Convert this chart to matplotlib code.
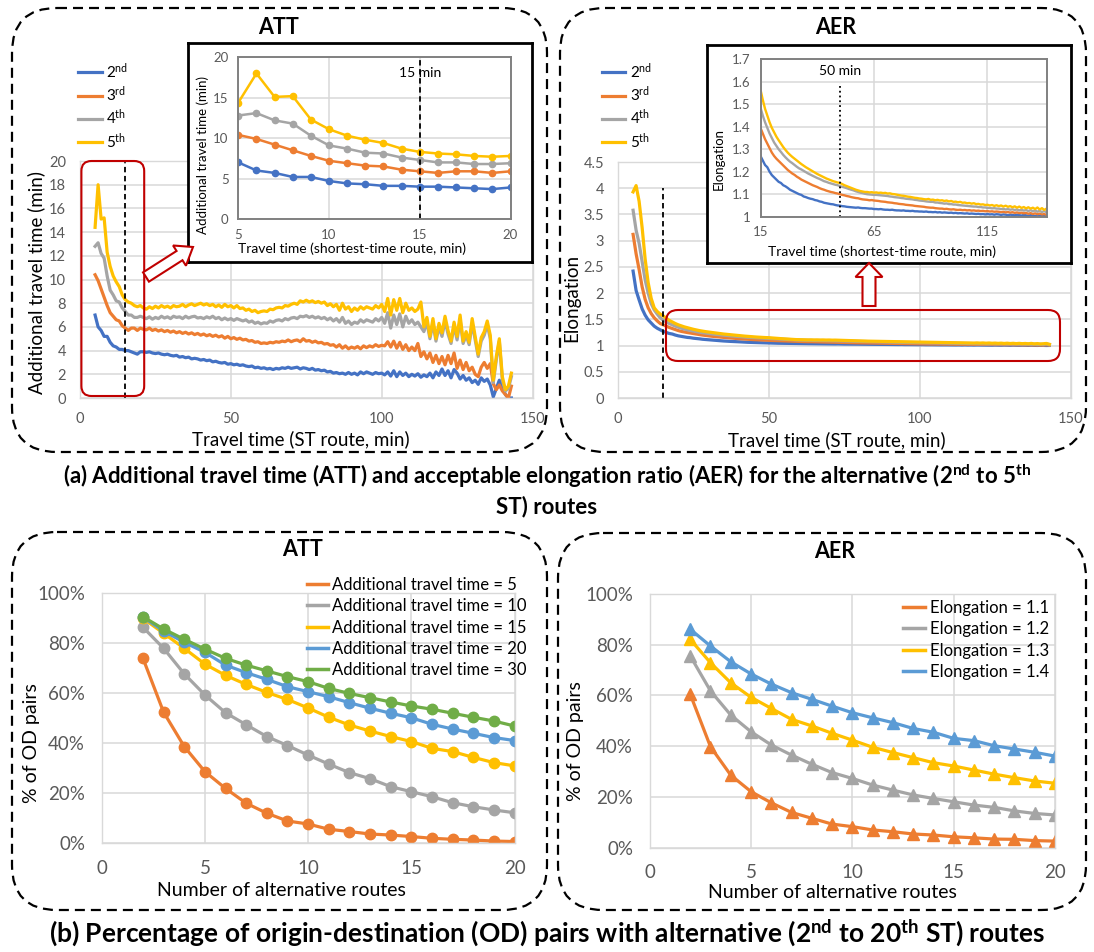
import matplotlib
matplotlib.use("Agg")
import matplotlib.pyplot as plt
from matplotlib.patches import FancyBboxPatch, FancyArrow
from matplotlib.lines import Line2D
from matplotlib.ticker import FuncFormatter
import numpy as np

plt.rcParams['font.family'] = ['Lato', 'DejaVu Sans']
plt.rcParams['mathtext.fontset'] = 'custom'
plt.rcParams['mathtext.rm'] = 'Lato'
plt.rcParams['mathtext.bf'] = 'Lato:bold'
plt.rcParams['mathtext.it'] = 'Lato:italic'

W, H = 1094, 952

# ==============================
# Data
# ==============================
route_labels = ['2$^{\\mathrm{nd}}$', '3$^{\\mathrm{rd}}$', '4$^{\\mathrm{th}}$', '5$^{\\mathrm{th}}$']
route_colors = ['#4472C4', '#ED7D31', '#A5A5A5', '#FFC000']

# ATT, travel time 5..20 min (inset, also start of main curve)
att_x_inset = np.arange(5, 21)
att_2nd = [7.0, 6.0, 5.7, 5.2, 5.2, 4.7, 4.4, 4.3, 4.1, 4.1, 4.0, 4.0, 3.9, 3.8, 3.7, 3.9]
att_3rd = [10.4, 9.9, 9.2, 8.5, 7.8, 7.2, 6.9, 6.6, 6.5, 6.1, 5.9, 5.7, 5.9, 5.9, 5.7, 5.9]
att_4th = [12.8, 13.1, 12.2, 11.8, 10.3, 9.1, 8.7, 8.2, 8.1, 7.6, 7.3, 7.0, 7.0, 6.8, 6.8, 6.9]
att_5th = [14.4, 18.0, 15.1, 15.2, 12.3, 11.1, 10.3, 9.8, 9.4, 8.7, 8.3, 8.1, 8.0, 7.8, 7.7, 7.8]

# ATT, travel time 21..143 min
att_2nd_tail = [3.9, 3.85, 3.9, 3.8, 3.75, 3.8, 3.7, 3.65, 3.7, 3.6,
                3.55, 3.6, 3.45, 3.5, 3.4, 3.45, 3.3, 3.35, 3.3, 3.2,
                3.25, 3.15, 3.2, 3.05, 3.1, 3.0, 2.95, 3.0, 2.85, 2.9,
                2.8, 2.85, 2.75, 2.8, 2.7, 2.65, 2.7, 2.55, 2.6, 2.5,
                2.55, 2.45, 2.5, 2.4, 2.5, 2.45, 2.55, 2.5, 2.6, 2.5,
                2.55, 2.6, 2.45, 2.55, 2.5, 2.4, 2.5, 2.35, 2.4, 2.3,
                2.35, 2.2, 2.25, 2.1, 2.15, 2.05, 2.1, 2.0, 2.15, 2.0,
                2.1, 1.95, 2.2, 2.05, 2.2, 2.1, 2.0, 2.15, 2.05, 2.1,
                1.95, 2.2, 1.85, 2.3, 1.8, 2.2, 1.9, 2.1, 1.8, 2.0,
                1.85, 2.05, 1.75, 1.95, 1.8, 2.1, 1.7, 2.2, 1.9, 2.45,
                1.9, 2.3, 1.7, 2.4, 2.1, 1.6, 1.9, 1.5, 1.7, 1.3,
                1.5, 1.15, 1.7, 1.4, 1.6, 1.1, 0.1, 0.8, 1.5, 1.0,
                0.3, 0.0, 0.0]
att_3rd_tail = [5.8, 5.75, 5.9, 5.7, 5.8, 5.65, 5.75, 5.6, 5.7, 5.55,
                5.65, 5.5, 5.6, 5.45, 5.55, 5.4, 5.5, 5.35, 5.45, 5.3,
                5.4, 5.25, 5.35, 5.2, 5.3, 5.15, 5.25, 5.05, 5.2, 5.0,
                5.1, 4.95, 5.05, 4.9, 4.95, 4.8, 4.85, 4.7, 4.75, 4.6,
                4.65, 4.6, 4.7, 4.65, 4.75, 4.7, 4.8, 4.75, 4.9, 4.75,
                4.85, 4.9, 4.75, 5.0, 4.8, 4.85, 4.7, 4.8, 4.65, 4.7,
                4.55, 4.6, 4.45, 4.5, 4.3, 4.5, 4.2, 4.4, 4.15, 4.3,
                4.2, 4.35, 4.15, 4.4, 4.25, 4.4, 4.3, 4.5, 4.35, 4.45,
                4.4, 4.75, 4.3, 4.8, 4.2, 4.7, 4.1, 4.5, 4.0, 4.3,
                4.0, 4.6, 3.5, 3.9, 3.3, 3.8, 3.0, 3.6, 2.9, 3.5,
                2.8, 3.6, 2.9, 3.8, 2.5, 3.2, 2.4, 3.0, 2.3, 2.6,
                2.0, 1.8, 2.6, 3.0, 2.5, 2.9, 1.2, 0.7, 1.1, 0.6,
                0.3, 0.0, 1.0]
att_4th_tail = [6.8, 6.7, 6.85, 6.65, 6.8, 6.7, 6.9, 6.75, 6.85, 6.7,
                6.9, 6.8, 6.85, 6.7, 6.9, 6.75, 6.85, 6.9, 6.75, 6.8,
                6.7, 6.85, 6.75, 6.9, 6.7, 6.8, 6.6, 6.75, 6.6, 6.7,
                6.55, 6.7, 6.6, 6.5, 6.6, 6.4, 6.5, 6.3, 6.4, 6.25,
                6.35, 6.3, 6.5, 6.4, 6.55, 6.6, 6.5, 6.7, 6.6, 6.75,
                6.8, 6.7, 6.9, 6.85, 6.95, 6.8, 6.9, 6.75, 6.85, 6.7,
                6.8, 6.6, 6.75, 6.5, 6.7, 6.4, 6.8, 6.3, 6.5, 6.2,
                6.4, 6.3, 6.6, 6.4, 6.6, 6.5, 6.4, 6.7, 6.5, 6.8,
                6.3, 7.2, 5.9, 7.0, 6.2, 7.1, 6.0, 6.9, 6.3, 6.6,
                6.2, 6.4, 6.0, 5.6, 6.4, 5.0, 6.3, 4.8, 6.0, 5.2,
                6.5, 5.4, 4.6, 6.1, 4.9, 6.6, 4.6, 5.3, 4.5, 6.3,
                4.9, 3.5, 4.8, 5.3, 6.2, 5.0, 1.3, 3.2, 4.8, 1.5,
                0.6, 0.8, 1.8]
att_5th_tail = [7.6, 7.5, 7.7, 7.55, 7.75, 7.6, 7.8, 7.65, 7.75, 7.6,
                7.8, 7.7, 7.75, 7.9, 7.7, 7.85, 7.95, 7.8, 7.9, 8.0,
                7.85, 7.95, 7.8, 7.9, 7.7, 7.85, 7.65, 7.9, 7.7, 7.8,
                7.6, 7.8, 7.55, 7.6, 7.4, 7.5, 7.3, 7.4, 7.2, 7.3,
                7.35, 7.3, 7.5, 7.45, 7.6, 7.65, 7.6, 7.8, 7.75, 7.9,
                8.0, 7.9, 8.2, 8.1, 8.25, 8.1, 8.2, 8.05, 8.15, 8.0,
                8.1, 7.8, 7.95, 7.7, 7.9, 7.4, 8.0, 7.5, 7.7, 7.3,
                7.6, 7.4, 7.7, 7.5, 7.7, 7.6, 7.5, 7.8, 7.6, 7.9,
                7.3, 8.4, 7.0, 8.3, 7.4, 8.4, 7.2, 8.0, 7.4, 7.6,
                7.3, 7.5, 8.1, 6.0, 6.8, 5.2, 6.7, 5.0, 6.3, 5.5,
                6.9, 5.7, 4.8, 6.4, 5.2, 7.0, 4.8, 5.6, 4.7, 6.7,
                5.2, 3.7, 5.1, 5.6, 6.5, 5.3, 1.5, 3.5, 5.0, 1.8,
                0.7, 1.0, 2.1]

att_x_main = np.arange(5, 144)
att_main = [att_2nd + att_2nd_tail, att_3rd + att_3rd_tail,
            att_4th + att_4th_tail, att_5th + att_5th_tail]
att_inset = [att_2nd, att_3rd, att_4th, att_5th]

# AER (elongation), travel time 5..143 min
aer_x = np.arange(5, 144)
aer_2nd = [2.42, 2.05, 1.87, 1.70, 1.58, 1.49, 1.43, 1.37, 1.33, 1.30, 1.27,
           1.25, 1.23, 1.22, 1.20, 1.185, 1.175, 1.165, 1.155, 1.15, 1.14,
           1.135, 1.128, 1.12, 1.115, 1.11, 1.105, 1.10, 1.097, 1.09, 1.087,
           1.083, 1.08, 1.078, 1.074, 1.072, 1.068, 1.066, 1.062, 1.06, 1.058,
           1.056, 1.055, 1.052, 1.05, 1.049, 1.047, 1.046, 1.044, 1.043, 1.042,
           1.041, 1.040, 1.041, 1.039, 1.038, 1.038, 1.037, 1.036, 1.036, 1.034,
           1.034, 1.033, 1.034, 1.032, 1.031, 1.031, 1.03, 1.031, 1.029, 1.028,
           1.028, 1.027, 1.028, 1.026, 1.026, 1.025, 1.026, 1.024, 1.024, 1.023,
           1.023, 1.022, 1.023, 1.021, 1.021, 1.02, 1.021, 1.019, 1.02, 1.018,
           1.019, 1.018, 1.017, 1.018, 1.016, 1.017, 1.015, 1.016, 1.015, 1.014,
           1.015, 1.013, 1.014, 1.013, 1.012, 1.013, 1.011, 1.012, 1.01, 1.012,
           1.01, 1.011, 1.009, 1.011, 1.01, 1.008, 1.01, 1.009, 1.007, 1.009,
           1.008, 1.006, 1.009, 1.007, 1.005, 1.008, 1.006, 1.004, 1.007, 1.005,
           1.003, 1.006, 1.004, 1.002, 1.005, 1.003, 1.001, 1.002]
aer_3rd = [3.12, 2.75, 2.45, 2.12, 1.88, 1.72, 1.61, 1.53, 1.47, 1.42, 1.395,
           1.37, 1.345, 1.325, 1.305, 1.285, 1.27, 1.258, 1.248, 1.238, 1.228,
           1.218, 1.208, 1.20, 1.192, 1.186, 1.178, 1.172, 1.165, 1.16, 1.155,
           1.15, 1.145, 1.14, 1.136, 1.132, 1.127, 1.123, 1.12, 1.116, 1.113,
           1.11, 1.108, 1.105, 1.103, 1.10, 1.097, 1.095, 1.092, 1.09, 1.087,
           1.085, 1.083, 1.082, 1.079, 1.077, 1.076, 1.075, 1.073, 1.074, 1.072,
           1.071, 1.07, 1.068, 1.067, 1.066, 1.064, 1.063, 1.062, 1.06, 1.059,
           1.057, 1.056, 1.055, 1.053, 1.052, 1.051, 1.05, 1.048, 1.047, 1.046,
           1.045, 1.044, 1.042, 1.041, 1.04, 1.04, 1.038, 1.037, 1.036, 1.036,
           1.034, 1.035, 1.033, 1.032, 1.033, 1.031, 1.03, 1.031, 1.029, 1.03,
           1.028, 1.029, 1.027, 1.028, 1.026, 1.027, 1.025, 1.026, 1.024, 1.025,
           1.023, 1.024, 1.022, 1.023, 1.022, 1.02, 1.022, 1.019, 1.021, 1.018,
           1.02, 1.017, 1.019, 1.016, 1.018, 1.015, 1.017, 1.013, 1.016, 1.012,
           1.015, 1.011, 1.014, 1.01, 1.012, 1.008, 1.015, 1.01]
aer_4th = [3.58, 3.2, 2.95, 2.6, 2.25, 2.0, 1.8, 1.68, 1.6, 1.53, 1.485,
           1.45, 1.42, 1.395, 1.37, 1.35, 1.33, 1.315, 1.30, 1.288, 1.275,
           1.264, 1.254, 1.245, 1.238, 1.23, 1.222, 1.215, 1.21, 1.204, 1.198,
           1.192, 1.187, 1.182, 1.177, 1.172, 1.168, 1.163, 1.158, 1.155, 1.151,
           1.148, 1.145, 1.142, 1.14, 1.136, 1.133, 1.13, 1.127, 1.123, 1.12,
           1.117, 1.113, 1.11, 1.107, 1.105, 1.102, 1.10, 1.099, 1.098, 1.097,
           1.097, 1.096, 1.095, 1.094, 1.093, 1.092, 1.09, 1.089, 1.087, 1.086,
           1.085, 1.083, 1.082, 1.08, 1.079, 1.078, 1.077, 1.075, 1.074, 1.072,
           1.071, 1.07, 1.068, 1.067, 1.066, 1.066, 1.063, 1.063, 1.061, 1.06,
           1.058, 1.059, 1.056, 1.056, 1.054, 1.054, 1.052, 1.051, 1.05, 1.049,
           1.048, 1.047, 1.046, 1.045, 1.045, 1.043, 1.043, 1.041, 1.041, 1.039,
           1.039, 1.037, 1.038, 1.036, 1.036, 1.034, 1.035, 1.032, 1.034, 1.031,
           1.033, 1.03, 1.032, 1.028, 1.031, 1.027, 1.03, 1.025, 1.029, 1.024,
           1.028, 1.022, 1.027, 1.02, 1.026, 1.018, 1.03, 1.015]
aer_5th = [3.93, 4.05, 3.75, 3.25, 2.65, 2.2, 1.9, 1.72, 1.65, 1.6, 1.565,
           1.52, 1.48, 1.45, 1.42, 1.395, 1.375, 1.356, 1.34, 1.325, 1.31,
           1.297, 1.285, 1.275, 1.266, 1.258, 1.25, 1.242, 1.234, 1.227, 1.22,
           1.214, 1.208, 1.202, 1.196, 1.19, 1.185, 1.18, 1.175, 1.17, 1.166,
           1.162, 1.158, 1.155, 1.152, 1.15, 1.145, 1.14, 1.136, 1.132, 1.128,
           1.124, 1.12, 1.117, 1.114, 1.112, 1.11, 1.11, 1.108, 1.109, 1.107,
           1.108, 1.106, 1.107, 1.105, 1.106, 1.103, 1.104, 1.101, 1.1, 1.098,
           1.096, 1.094, 1.093, 1.091, 1.089, 1.088, 1.086, 1.084, 1.083, 1.081,
           1.08, 1.078, 1.077, 1.079, 1.075, 1.076, 1.073, 1.075, 1.072, 1.073,
           1.07, 1.072, 1.068, 1.07, 1.066, 1.067, 1.064, 1.066, 1.062, 1.063,
           1.06, 1.061, 1.058, 1.06, 1.056, 1.057, 1.054, 1.055, 1.052, 1.053,
           1.05, 1.052, 1.048, 1.051, 1.047, 1.05, 1.045, 1.049, 1.044, 1.047,
           1.042, 1.046, 1.04, 1.045, 1.039, 1.043, 1.037, 1.042, 1.036, 1.04,
           1.034, 1.041, 1.032, 1.038, 1.03, 1.036, 1.04, 1.025]
aer_main = [aer_2nd, aer_3rd, aer_4th, aer_5th]

ATT_CUTOFF = 15   # min
AER_CUTOFF = 50   # min

# % of OD pairs vs number of alternative routes
n_routes = np.arange(2, 21)
att_thresholds = ['Additional travel time = 5', 'Additional travel time = 10',
                  'Additional travel time = 15', 'Additional travel time = 20',
                  'Additional travel time = 30']
att_colors = ['#ED7D31', '#A5A5A5', '#FFC000', '#5B9BD5', '#70AD47']
pct_att = [
    [73.8, 52.3, 38.6, 28.6, 21.9, 16.0, 12.0, 8.9, 7.7, 5.6, 4.7, 3.7, 3.3, 2.7, 2.0, 1.6, 1.3, 0.9, 0.7],
    [86.2, 77.8, 67.6, 59.2, 52.1, 47.3, 42.6, 39.0, 35.2, 31.6, 28.2, 25.8, 22.6, 20.6, 18.6, 16.2, 14.6, 13.3, 12.2],
    [89.8, 83.8, 77.8, 71.5, 67.0, 63.4, 60.2, 57.4, 54.0, 50.3, 47.2, 44.8, 42.6, 40.6, 37.9, 36.6, 34.3, 32.2, 30.9],
    [90.2, 84.7, 80.2, 76.2, 71.1, 68.1, 65.4, 62.5, 60.5, 58.5, 56.1, 53.9, 51.9, 50.1, 47.5, 45.6, 43.9, 42.2, 41.0],
    [90.4, 85.5, 81.4, 77.5, 73.8, 71.1, 68.8, 66.5, 64.5, 61.8, 59.8, 58.1, 56.4, 54.8, 53.5, 51.9, 50.3, 48.8, 46.8],
]
aer_thresholds = ['Elongation = 1.1', 'Elongation = 1.2', 'Elongation = 1.3', 'Elongation = 1.4']
aer_colors = ['#ED7D31', '#A5A5A5', '#FFC000', '#5B9BD5']
pct_aer = [
    [60.5, 39.8, 28.6, 22.1, 17.7, 13.9, 11.6, 9.3, 8.3, 7.0, 6.3, 5.4, 5.0, 4.3, 3.9, 3.4, 3.3, 2.8, 2.6],
    [75.6, 61.8, 52.3, 45.7, 40.5, 36.5, 32.9, 29.6, 27.3, 24.7, 22.7, 20.8, 19.4, 18.1, 16.8, 15.9, 14.5, 13.5, 12.9],
    [82.1, 72.9, 65.0, 59.3, 54.9, 50.6, 48.0, 45.1, 42.4, 39.6, 37.5, 35.5, 33.5, 32.2, 30.6, 29.0, 27.6, 26.3, 25.4],
    [86.1, 79.5, 73.3, 68.5, 64.5, 61.1, 58.5, 55.8, 53.2, 51.2, 49.3, 47.0, 45.5, 43.1, 42.2, 40.2, 38.9, 37.6, 36.1],
]

# ==============================
# Helpers
# ==============================
TICK_GRAY = '#595959'
GRID = '#d9d9d9'
RED = '#C00000'


def rect(l, t, r, b):
    # pixel box -> figure fraction
    return [l / W, 1 - b / H, (r - l) / W, (b - t) / H]


def excel_style(ax, size, pad, frame=GRID, frame_lw=1.0):
    ax.grid(True, color=GRID, lw=1.1)
    ax.set_axisbelow(True)
    for s in ax.spines.values():
        s.set_color(frame)
        s.set_linewidth(frame_lw)
    ax.tick_params(length=0, labelsize=size, labelcolor=TICK_GRAY, pad=pad)


general = FuncFormatter(lambda v, _: f'{v:g}')
percent = FuncFormatter(lambda v, _: f'{v:.0f}%')

fig = plt.figure(figsize=(W / 100, H / 100), dpi=100)


def overlay(z):
    a = fig.add_axes([0, 0, 1, 1], zorder=z)
    a.set_xlim(0, W)
    a.set_ylim(H, 0)
    a.axis('off')
    return a


bg = overlay(0)
fg = overlay(20)

# dashed panels
for l, t, r, b in [(12, 8, 547, 452), (560, 8, 1086, 452),
                   (12, 532, 547, 910), (558, 533, 1086, 910)]:
    bg.add_patch(FancyBboxPatch((l, t), r - l, b - t,
                                boxstyle='round,pad=0,rounding_size=45',
                                fill=False, ec='black', lw=1.6, ls=(0, (4.5, 2.7))))

# ==============================
# (a) ATT main
# ==============================
ax1 = fig.add_axes(rect(80, 161, 532.5, 398), zorder=1)
for y, c, lab in zip(att_main, route_colors, route_labels):
    ax1.plot(att_x_main, y, color=c, lw=2.3, label=lab)
ax1.axvline(ATT_CUTOFF, color='black', ls=(0, (3, 2)), lw=1.3)
ax1.set_xlim(0, 150)
ax1.set_ylim(0, 20)
ax1.set_xticks([0, 50, 100, 150])
ax1.set_yticks(np.arange(0, 21, 2))
excel_style(ax1, 10.5, 10)
ax1.legend(loc='upper left', bbox_to_anchor=(78 / W, 1 - 61 / H), bbox_transform=fig.transFigure,
           frameon=False, fontsize=11, handlelength=1.55, handletextpad=0.3,
           labelspacing=0.22, borderpad=0, borderaxespad=0)

# ATT inset
box1 = fig.add_axes(rect(188, 43, 532, 262), zorder=3)
box1.set_xticks([])
box1.set_yticks([])
for s in box1.spines.values():
    s.set_linewidth(2)
ax1i = fig.add_axes(rect(238.3, 57.3, 510.5, 219), zorder=4)
for y, c in zip(att_inset, route_colors):
    ax1i.plot(att_x_inset, y, color=c, lw=1.8, marker='o', ms=4.5)
ax1i.axvline(ATT_CUTOFF, color='black', ls=(0, (3, 2)), lw=1.3)
ax1i.text(ATT_CUTOFF, 18.1, '15 min', ha='center', va='center', fontsize=10)
ax1i.set_xlim(5, 20)
ax1i.set_ylim(0, 20)
ax1i.set_xticks([5, 10, 15, 20])
ax1i.set_yticks([0, 5, 10, 15, 20])
excel_style(ax1i, 9.5, 7, frame='#808080', frame_lw=1.4)

# ==============================
# (a) AER main
# ==============================
ax2 = fig.add_axes(rect(618, 162, 1070.5, 398), zorder=1)
for y, c, lab in zip(aer_main, route_colors, route_labels):
    ax2.plot(aer_x, y, color=c, lw=2.3, label=lab)
ax2.axvline(ATT_CUTOFF, ymax=4 / 4.5, color='black', ls=(0, (3, 2)), lw=1.3)
ax2.set_xlim(0, 150)
ax2.set_ylim(0, 4.5)
ax2.set_xticks([0, 50, 100, 150])
ax2.set_yticks(np.arange(0, 4.51, 0.5))
ax2.yaxis.set_major_formatter(general)
excel_style(ax2, 10.5, 10)
ax2.legend(loc='upper left', bbox_to_anchor=(601.5 / W, 1 - 61 / H), bbox_transform=fig.transFigure,
           frameon=False, fontsize=11, handlelength=1.55, handletextpad=0.3,
           labelspacing=0.22, borderpad=0, borderaxespad=0)

box2 = fig.add_axes(rect(706.5, 45, 1070.5, 263), zorder=3)
box2.set_xticks([])
box2.set_yticks([])
for s in box2.spines.values():
    s.set_linewidth(2)
ax2i = fig.add_axes(rect(760.5, 59.3, 1046.5, 216.7), zorder=4)
for y, c in zip(aer_main, route_colors):
    ax2i.plot(aer_x, y, color=c, lw=1.7)
ax2i.axvline(AER_CUTOFF, ymax=0.85, color='black', ls=':', lw=1.3)
ax2i.text(AER_CUTOFF, 1.648, '50 min', ha='center', va='center', fontsize=10)
ax2i.set_xlim(15, 141)
ax2i.set_ylim(1, 1.7)
ax2i.set_xticks([15, 65, 115])
ax2i.set_yticks(np.arange(1, 1.71, 0.1))
ax2i.yaxis.set_major_formatter(general)
excel_style(ax2i, 9.5, 7, frame='#808080', frame_lw=1.4)

# ==============================
# (b) % of OD pairs
# ==============================
ax3 = fig.add_axes(rect(101.7, 592.7, 514.5, 843.3), zorder=1)
for y, c in zip(pct_att, att_colors):
    ax3.plot(n_routes, y, color=c, lw=2.3, marker='o', ms=7.5)
ax3.set_xlim(0, 20)
ax3.set_ylim(0, 100)
ax3.set_xticks([0, 5, 10, 15, 20])
ax3.set_yticks(np.arange(0, 101, 20))
ax3.yaxis.set_major_formatter(percent)
excel_style(ax3, 13.5, 12)
ax3.legend([Line2D([], [], color=c, lw=2.5) for c in att_colors], att_thresholds,
           loc='upper left', bbox_to_anchor=(307 / W, 1 - 577 / H), bbox_transform=fig.transFigure,
           frameon=False, fontsize=12, handlelength=1.25, handletextpad=0.28,
           labelspacing=0.32, borderpad=0, borderaxespad=0)

ax4 = fig.add_axes(rect(649.7, 594, 1055, 847.7), zorder=1)
for y, c in zip(pct_aer, aer_colors):
    ax4.plot(n_routes, y, color=c, lw=2.3, marker='^', ms=8.5)
ax4.set_xlim(0, 20)
ax4.set_ylim(0, 100)
ax4.set_xticks([0, 5, 10, 15, 20])
ax4.set_yticks(np.arange(0, 101, 20))
ax4.yaxis.set_major_formatter(percent)
excel_style(ax4, 13.5, 12)
ax4.legend([Line2D([], [], color=c, lw=2.5) for c in aer_colors], aer_thresholds,
           loc='upper left', bbox_to_anchor=(903 / W, 1 - 600 / H), bbox_transform=fig.transFigure,
           frameon=False, fontsize=12, handlelength=1.3, handletextpad=0.3,
           labelspacing=0.32, borderpad=0, borderaxespad=0)

# ==============================
# Annotations (pixel coordinates on the overlay)
# ==============================
def txt(x, y, s, **kw):
    fg.text(x, y, s, ha='center', va='center', **kw)


txt(279, 27, 'ATT', fontsize=15.5, fontweight='bold')
txt(836, 27, 'AER', fontsize=15.5, fontweight='bold')
txt(303, 550, 'ATT', fontsize=15.5, fontweight='bold')
txt(835, 552, 'AER', fontsize=15.5, fontweight='bold')

txt(301, 439, 'Travel time (ST route, min)', fontsize=13.5)
txt(36, 283, 'Additional travel time (min)', fontsize=13.5, rotation=90)
txt(837, 440, 'Travel time (ST route, min)', fontsize=13.5)
txt(572, 298, 'Elongation', fontsize=13.5, rotation=90)

txt(352, 249, 'Travel time (shortest-time route, min)', fontsize=10)
txt(203, 155, 'Additional travel time (min)', fontsize=9.5, rotation=90)
txt(882, 252, 'Travel time (shortest-time route, min)', fontsize=10)
txt(719, 159, 'Elongation', fontsize=9.5, rotation=90)

txt(281, 891, 'Number of alternative routes', fontsize=14)
txt(32, 743, '% of OD pairs', fontsize=14, rotation=90)
txt(832, 892, 'Number of alternative routes', fontsize=14)
txt(575, 741, '% of OD pairs', fontsize=14, rotation=90)

txt(547, 476, '(a) Additional travel time (ATT) and acceptable elongation ratio (AER) for the '
              'alternative (2$^{\\mathbf{nd}}$ to 5$^{\\mathbf{th}}$', fontsize=16, fontweight='bold')
txt(547, 507, 'ST) routes', fontsize=16, fontweight='bold')
txt(547, 933, '(b) Percentage of origin-destination (OD) pairs with alternative '
              '(2$^{\\mathbf{nd}}$ to 20$^{\\mathbf{th}}$ ST) routes', fontsize=19, fontweight='bold')

# red highlight boxes and hollow arrows
fg.add_patch(FancyBboxPatch((81.4, 161), 62.8, 235, boxstyle='round,pad=0,rounding_size=10',
                            fill=False, ec=RED, lw=1.5))
fg.add_patch(FancyBboxPatch((666, 310), 394, 51, boxstyle='round,pad=0,rounding_size=12',
                            fill=False, ec=RED, lw=1.5))
fg.add_patch(FancyArrow(146, 277, 47, -30, width=11, head_width=24, head_length=16,
                        length_includes_head=True, fc='white', ec=RED, lw=1.5))
fg.add_patch(FancyArrow(869, 306, 0, -43, width=13, head_width=27, head_length=14,
                        length_includes_head=True, fc='white', ec=RED, lw=1.5))

fig.savefig('out.png', dpi=100)
